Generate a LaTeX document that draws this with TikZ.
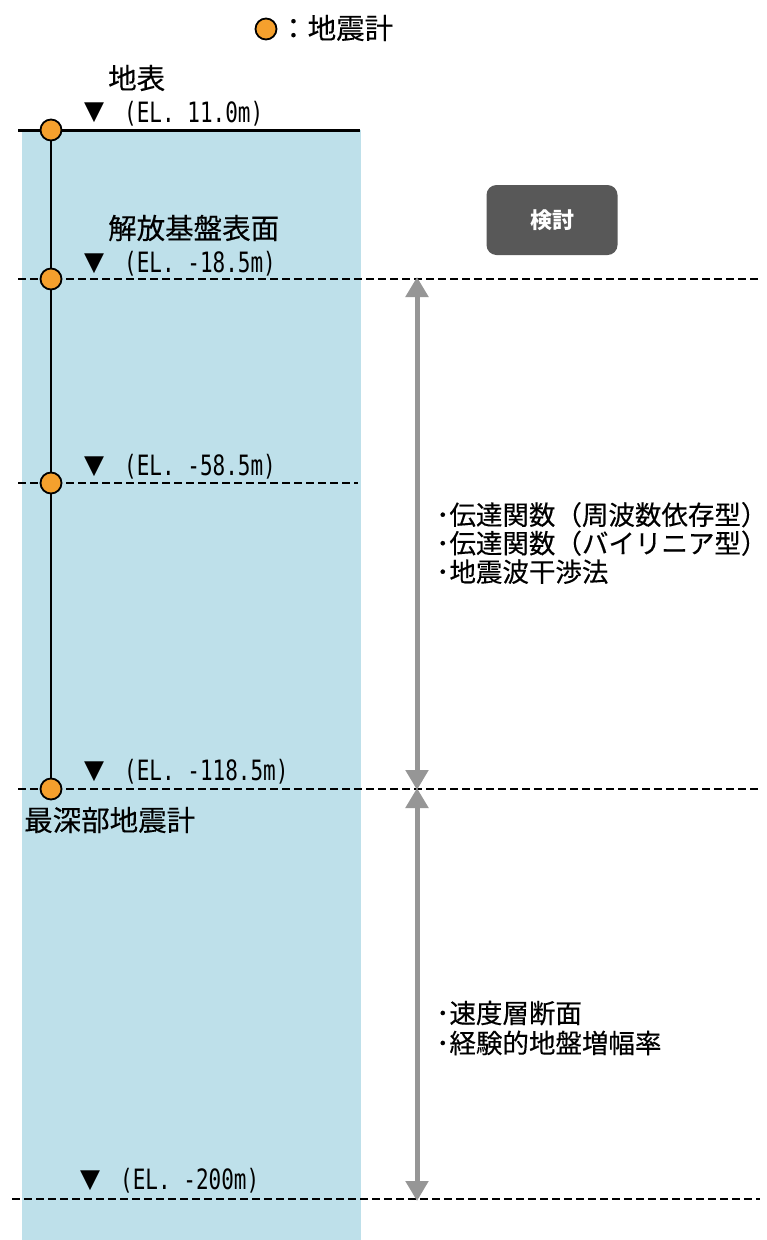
\documentclass[tikz,border=0pt]{standalone}
\usepackage{fontspec}
\setmainfont{Noto Sans CJK JP}
\newfontfamily\jpm{Noto Sans CJK JP}[FakeBold=0.3]
\newfontfamily\elfont{DejaVu Sans Mono}
\newfontfamily\symfont{DejaVu Sans}
\usetikzlibrary{arrows.meta}
\definecolor{groundblue}{RGB}{190,224,234}
\definecolor{sensororange}{RGB}{245,160,45}
\definecolor{boxgray}{RGB}{88,88,88}
\definecolor{arrowgray}{RGB}{150,150,150}
\tikzset{
  sensor/.style={circle,draw=black,line width=1.8pt,fill=sensororange,minimum size=21pt,inner sep=0pt},
  lvl/.style={draw=black,line width=2.2pt,dash pattern=on 8pt off 4pt},
  jplabel/.style={font=\jpm\fontsize{28.5}{31}\selectfont,anchor=west,inner sep=0pt},
  ellabel/.style={font=\elfont\fontsize{28}{30}\selectfont,anchor=west,inner sep=0pt,xscale=0.75},
  tri/.style={font=\symfont\fontsize{26}{28}\selectfont,inner sep=0pt},
  note/.style={font=\jpm\fontsize{26.5}{28.5}\selectfont,anchor=west,align=left,inner sep=0pt},
  span/.style={draw=arrowgray,line width=5pt,{Triangle[width=22pt,length=20pt]}-{Triangle[width=22pt,length=20pt]}},
  method/.style={fill=boxgray,rounded corners=10pt,minimum width=131pt,minimum height=70pt,text=white,font=\bfseries\fontsize{22}{24}\selectfont}
}
\begin{document}
\begin{tikzpicture}[x=1pt,y=-1pt]
\useasboundingbox (0,0) rectangle (767,1240);
\fill[white] (0,0) rectangle (767,1240);
% ground column
\fill[groundblue] (22,130) rectangle (361,1240);
% legend
\node[sensor,minimum size=21pt] (leg) at (266,29) {};
\node[jplabel] (legtext) at (279,28) {：地震計};
% level coordinates
\coordinate (g0) at (18,130);   \coordinate (g1) at (360,130);
\coordinate (a0) at (18,279);   \coordinate (a1) at (760,279);
\coordinate (b0) at (18,483);   \coordinate (b1) at (358,483);
\coordinate (c0) at (18,789);   \coordinate (c1) at (760,789);
\coordinate (d0) at (12,1199);  \coordinate (d1) at (760,1199);
\draw[line width=3pt] (g0) -- (g1);
\draw[lvl] (a0) -- (a1);
\draw[lvl] (b0) -- (b1);
\draw[lvl] (c0) -- (c1);
\draw[lvl] (d0) -- (d1);
% sensors
\node[sensor] (s1) at (51,130) {};
\node[sensor] (s2) at (51,279) {};
\node[sensor] (s3) at (51,483) {};
\node[sensor] (s4) at (51,789) {};
\draw[line width=1.5pt] (s1) -- (s2) (s2) -- (s3) (s3) -- (s4);
% labels
\node[jplabel] (surf) at (108,78) {地表};
\node[tri] (t1) at (94,113) {▼};
\node[ellabel] (el1) at (124,114) {(EL. 11.0m)};
\node[jplabel] (base) at (108,228) {解放基盤表面};
\node[tri] (t2) at (94,264) {▼};
\node[ellabel] (el2) at (124,264) {(EL. -18.5m)};
\node[tri] (t3) at (94,467) {▼};
\node[ellabel] (el3) at (124,467) {(EL. -58.5m)};
\node[tri] (t4) at (94,772) {▼};
\node[ellabel] (el4) at (124,772) {(EL. -118.5m)};
\node[jplabel] (deep) at (24,820) {最深部地震計};
\node[tri] (t5) at (90,1181) {▼};
\node[ellabel] (el5) at (120,1181) {(EL. -200m)};
% method box
\node[method] (kento) at (552,220) {検討};
% span arrows
\coordinate (p1) at (417,279);
\coordinate (p2) at (417,789);
\coordinate (p3) at (417,1199);
\draw[span] ([yshift=2pt]p1) -- ([yshift=-1pt]p2);
\draw[span] ([yshift=1pt]p2) -- ([yshift=-2pt]p3);
% notes
\node[note] (n1) at (436,543) {･伝達関数（周波数依存型）\\･伝達関数（バイリニア型）\\･地震波干渉法};
\node[note,font=\jpm\fontsize{26.5}{30}\selectfont] (n2) at (436,1028) {･速度層断面\\･経験的地盤増幅率};
\end{tikzpicture}
\end{document}
